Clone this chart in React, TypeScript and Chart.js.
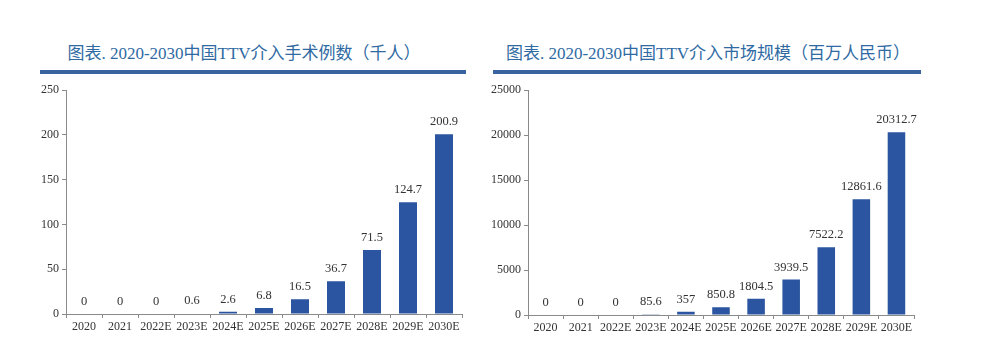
import React, { useEffect, useRef } from "react";
import { Chart, registerables } from "chart.js";

Chart.register(...registerables);

const categories = ["2020", "2021", "2022E", "2023E", "2024E", "2025E", "2026E", "2027E", "2028E", "2029E", "2030E"];
const surgeryCounts = [0, 0, 0, 0.6, 2.6, 6.8, 16.5, 36.7, 71.5, 124.7, 200.9];
const marketSize = [0, 0, 0, 85.6, 357, 850.8, 1804.5, 3939.5, 7522.2, 12861.6, 20312.7];
const leftTitle = "图表. 2020-2030中国TTV介入手术例数（千人）";
const rightTitle = "图表. 2020-2030中国TTV介入市场规模（百万人民币）";
const leftTicks = { max: 250, step: 50 };
const rightTicks = { max: 25000, step: 5000 };

const BAR = "#2b55a0";
const TITLE = "#2f6aa3";
const RULE = "#3863a0";
const AXIS = "#8a8a8a";
const SERIF = "'Liberation Serif', 'Times New Roman', serif";

type PanelProps = {
  title: string;
  values: number[];
  max: number;
  step: number;
  left: number;
  top: number;
  width: number;
  height: number;
  yAxisWidth: number;
  padTop: number;
  padRight: number;
};

function BarPanel(p: PanelProps) {
  const ref = useRef<HTMLCanvasElement | null>(null);
  useEffect(() => {
    if (!ref.current) return;
    const labelPlugin = {
      id: "valueLabels",
      afterDatasetsDraw(chart: any) {
        const ctx = chart.ctx;
        const meta = chart.getDatasetMeta(0);
        ctx.save();
        ctx.fillStyle = "#333";
        ctx.font = `12.5px ${SERIF}`;
        ctx.textAlign = "center";
        ctx.textBaseline = "bottom";
        meta.data.forEach((bar: any, i: number) => {
          ctx.fillText(String(p.values[i]), bar.x, bar.y - 6);
        });
        ctx.restore();
      },
    };
    const chart = new Chart(ref.current, {
      type: "bar",
      data: {
        labels: categories,
        datasets: [
          {
            data: p.values,
            backgroundColor: BAR,
            barPercentage: 0.5,
            categoryPercentage: 1,
          },
        ],
      },
      options: {
        animation: false,
        responsive: false,
        maintainAspectRatio: false,
        layout: { padding: { top: p.padTop, right: p.padRight, left: 0, bottom: 0 } },
        plugins: { legend: { display: false }, tooltip: { enabled: false } },
        scales: {
          x: {
            offset: true,
            grid: { display: true, drawOnChartArea: false, tickLength: 4, color: AXIS, offset: true },
            border: { color: AXIS, width: 1 },
            ticks: { color: "#333", font: { family: SERIF, size: 12 }, padding: 2, maxRotation: 0, autoSkip: false },
            afterFit(scale: any) {
              scale.height = 22;
            },
          },
          y: {
            min: 0,
            max: p.max,
            grid: { display: true, drawOnChartArea: false, tickLength: 4, color: AXIS },
            border: { color: AXIS, width: 1 },
            ticks: {
              stepSize: p.step,
              color: "#333",
              font: { family: SERIF, size: 12 },
              padding: 3,
              callback: (v: any) => String(v),
            },
            afterFit(scale: any) {
              scale.width = p.yAxisWidth;
            },
          },
        },
      },
      plugins: [labelPlugin],
    });
    return () => chart.destroy();
  }, []);
  return (
    <canvas
      ref={ref}
      width={p.width}
      height={p.height}
      style={{ position: "absolute", left: p.left, top: p.top, width: p.width, height: p.height }}
    />
  );
}

const titleStyle = (center: number): React.CSSProperties => ({
  position: "absolute",
  left: center - 250,
  width: 500,
  top: 43,
  textAlign: "center",
  fontFamily: "'Liberation Serif', 'Noto Sans CJK SC', serif",
  fontSize: 17,
  color: TITLE,
  whiteSpace: "nowrap",
  lineHeight: "22px",
});

export default function App() {
  return (
    <div style={{ position: "fixed", left: 0, top: 0, width: 985, height: 355, background: "#fff", overflow: "hidden" }}>
      <div style={titleStyle(244)}>{leftTitle}</div>
      <div style={titleStyle(708)}>{rightTitle}</div>
      <div style={{ position: "absolute", left: 40, top: 70, width: 426, height: 4, background: RULE }} />
      <div style={{ position: "absolute", left: 493, top: 70, width: 428, height: 4, background: RULE }} />
      <BarPanel
        title={leftTitle}
        values={surgeryCounts}
        max={leftTicks.max}
        step={leftTicks.step}
        left={20}
        top={80}
        width={450}
        height={256}
        yAxisWidth={46}
        padTop={9}
        padRight={8}
      />
      <BarPanel
        title={rightTitle}
        values={marketSize}
        max={rightTicks.max}
        step={rightTicks.step}
        left={480}
        top={80}
        width={450}
        height={257}
        yAxisWidth={48}
        padTop={10}
        padRight={16}
      />
    </div>
  );
}
